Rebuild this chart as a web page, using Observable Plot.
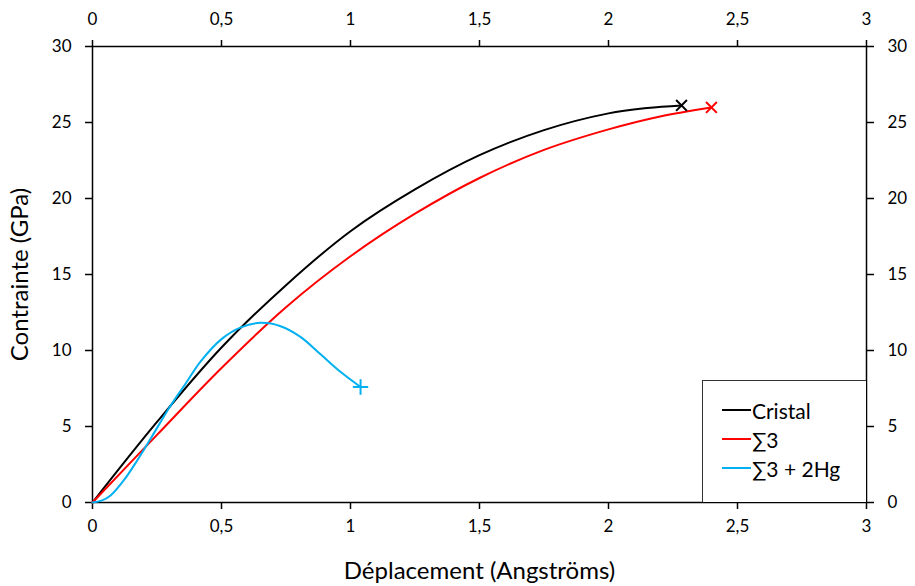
<!DOCTYPE html>
<html>
<head>
<meta charset="utf-8">
<script src="https://cdn.jsdelivr.net/npm/d3@7"></script>
<script src="https://cdn.jsdelivr.net/npm/@observablehq/plot@0.6"></script>
<style>
  html, body { margin: 0; padding: 0; background: #fff; }
  #wrap { position: relative; width: 915px; height: 586px; font-family: Lato, "Open Sans", sans-serif; }
  #legend { position: absolute; left: 702px; top: 380px; width: 163px; height: 121px; border-left: 1px solid #333; border-top: 1px solid #333; background: #fff; }
  .row { position: absolute; left: 19px; display: flex; align-items: center; font-size: 21px; color: #000; height: 24px; }
  .row span.sw { display: inline-block; width: 29px; height: 0; border-top: 2px solid; margin-right: 1px; }
</style>
</head>
<body>
<div id="wrap"></div>
<script>
// Series data (x: Déplacement in Å, y: Contrainte in GPa)
const cristalX = [0, 0.25, 0.5, 0.75, 1.0, 1.25, 1.5, 1.75, 2.0, 2.15, 2.283];
const cristalY = [0, 5.3, 10.2, 14.3, 17.85, 20.6, 22.85, 24.5, 25.6, 25.95, 26.12];
const sigma3X = [0, 0.25, 0.5, 0.75, 1.0, 1.25, 1.5, 1.75, 2.0, 2.2, 2.399];
const sigma3Y = [0, 4.45, 8.85, 12.85, 16.2, 19.0, 21.35, 23.2, 24.55, 25.4, 25.99];
const hgX = [0, 0.035, 0.07, 0.121, 0.173, 0.225, 0.3, 0.36, 0.42, 0.5, 0.575, 0.651, 0.729, 0.806, 0.884, 0.961, 1.039];
const hgY = [0, 0.12, 0.46, 1.45, 2.76, 4.19, 6.3, 7.8, 9.3, 10.75, 11.52, 11.82, 11.6, 10.9, 9.75, 8.6, 7.6];

const seriesNames = ["Cristal", "∑3", "∑3 + 2Hg"];
const seriesColors = ["#000000", "#ff0000", "#00b0f0"];
const seriesSymbols = ["times", "times", "plus"];
const xTicks = [0, 0.5, 1, 1.5, 2, 2.5, 3];
const yTicks = [0, 5, 10, 15, 20, 25, 30];

const xs = [cristalX, sigma3X, hgX];
const ys = [cristalY, sigma3Y, hgY];
const rows = [];
const ends = [];
seriesNames.forEach((name, i) => {
  xs[i].forEach((x, j) => rows.push({series: name, x, y: ys[i][j]}));
  const n = xs[i].length - 1;
  ends.push({series: name, x: xs[i][n], y: ys[i][n], symbol: seriesSymbols[i], color: seriesColors[i]});
});

const fmt = d => String(d).replace(".", ",");
const font = "Lato, 'Open Sans', sans-serif";

const chart = Plot.plot({
  width: 915,
  height: 586,
  marginLeft: 92,
  marginRight: 49,
  marginTop: 46,
  marginBottom: 84,
  style: {fontFamily: font, fontSize: "17px", color: "#000", background: "#fff", overflow: "visible"},
  x: {domain: [0, 3]},
  y: {domain: [0, 30]},
  color: {domain: seriesNames, range: seriesColors},
  marks: [
    Plot.frame({stroke: "#000", strokeWidth: 1.5}),
    Plot.axisX({anchor: "bottom", ticks: xTicks, tickFormat: fmt, tickSize: 7, tickPadding: 10, strokeWidth: 1.5,
      label: "Déplacement (Angströms)", labelAnchor: "center", labelArrow: false, labelOffset: 76, fontSize: 17}),
    Plot.axisX({anchor: "top", ticks: xTicks, tickFormat: fmt, tickSize: 7, tickPadding: 15, strokeWidth: 1.5, label: null, fontSize: 17}),
    Plot.axisY({anchor: "left", ticks: yTicks, tickSize: 7, tickPadding: 14, strokeWidth: 1.5,
      label: "Contrainte (GPa)", labelAnchor: "center", labelArrow: false, labelOffset: 82, fontSize: 17}),
    Plot.axisY({anchor: "right", ticks: yTicks, tickSize: 7, tickPadding: 14, strokeWidth: 1.5, label: null, fontSize: 17}),
    Plot.line(rows, {x: "x", y: "y", z: "series", stroke: "series", strokeWidth: 2, curve: "catmull-rom"}),
    Plot.dot(ends, {x: "x", y: "y", symbol: "symbol", stroke: "color", strokeWidth: 2, r: 5})
  ]
});

// Enlarge axis titles
chart.querySelectorAll("g[aria-label='x-axis label'] text, g[aria-label='y-axis label'] text").forEach(t => {
  t.style.fontSize = "24px";
});

const wrap = document.getElementById("wrap");
wrap.appendChild(chart);

// Legend (inside plot, lower right)
const legend = document.createElement("div");
legend.id = "legend";
seriesNames.forEach((name, i) => {
  const r = document.createElement("div");
  r.className = "row";
  r.style.top = (17 + i * 29) + "px";
  const sw = document.createElement("span");
  sw.className = "sw";
  sw.style.borderTopColor = seriesColors[i];
  const tx = document.createElement("span");
  tx.textContent = name;
  r.appendChild(sw);
  r.appendChild(tx);
  legend.appendChild(r);
});
wrap.appendChild(legend);
</script>
</body>
</html>
